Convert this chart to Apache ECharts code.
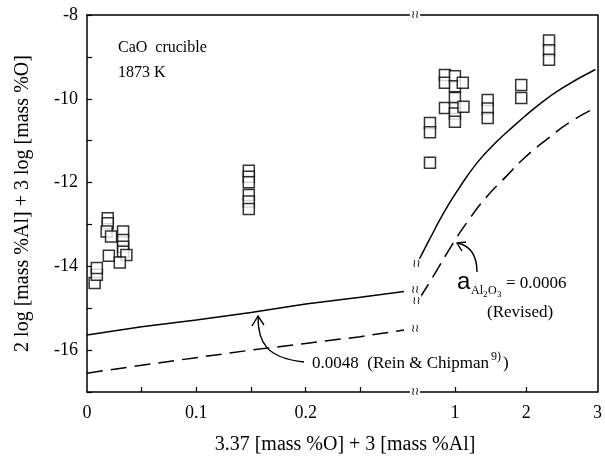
<!DOCTYPE html>
<html>
<head>
<meta charset="utf-8">
<script src="https://cdn.jsdelivr.net/npm/echarts@6/dist/echarts.min.js"></script>
<style>
  html, body { margin: 0; padding: 0; background: #fff; }
  #chart { width: 605px; height: 461px; }
</style>
</head>
<body>
<div id="chart"></div>
<script>
// x = 3.37 [mass %O] + 3 [mass %Al], y = 2 log [mass %Al] + 3 log [mass %O]
// left panel: linear 0 - 0.3, right panel (after the break): 0.44 - 3
var leftPoints = [
  [0.007, -14.40], [0.009, -14.20], [0.009, -14.04],
  [0.019, -12.85], [0.019, -12.97], [0.018, -13.17], [0.022, -13.29], [0.020, -13.75],
  [0.033, -13.17], [0.033, -13.37], [0.033, -13.53], [0.033, -13.65], [0.036, -13.73], [0.030, -13.91],
  [0.148, -11.72], [0.148, -11.86], [0.148, -11.99], [0.148, -12.30], [0.148, -12.45], [0.148, -12.63]
];
var rightPoints = [
  [0.65, -10.58], [0.65, -10.80], [0.65, -11.53],
  [0.86, -9.43], [0.86, -9.62], [0.86, -10.22],
  [1.00, -9.46], [1.00, -9.70], [1.00, -9.98], [1.00, -10.22], [1.00, -10.35], [1.00, -10.55],
  [1.11, -9.62], [1.12, -10.19],
  [1.46, -10.03], [1.46, -10.23], [1.46, -10.46],
  [1.93, -9.67], [1.93, -9.98],
  [2.32, -8.61], [2.32, -8.84], [2.32, -9.07]
];
// a(Al2O3) = 0.0048 (Rein & Chipman) -> dashed, 0.0006 (revised) -> solid
var solidLeft = [[0, -15.64], [0.05, -15.44], [0.1, -15.28], [0.15, -15.10], [0.2, -14.90], [0.25, -14.74], [0.29, -14.60]];
var dashedLeft = [[0, -16.55], [0.05, -16.36], [0.1, -16.18], [0.15, -16.00], [0.2, -15.84], [0.25, -15.68], [0.29, -15.52]];
var solidRight = [[0.48, -13.90], [0.64, -13.37], [0.84, -12.73], [1.04, -12.18], [1.31, -11.53], [1.57, -11.05], [1.84, -10.63], [2.17, -10.15], [2.51, -9.74], [2.97, -9.30]];
var dashedRight = [[0.51, -14.75], [0.71, -14.20], [0.93, -13.57], [1.17, -12.95], [1.44, -12.35], [1.71, -11.87], [1.97, -11.42], [2.31, -10.94], [2.64, -10.53], [2.97, -10.22]];

var leftTicks = [0.05, 0.1, 0.15, 0.2, 0.25];
var leftLabels = [0, 0.1, 0.2];
var rightTicks = [1, 2];
var rightLabels = [1, 2, 3];

var serif = 'Liberation Serif';
var chart = echarts.init(document.getElementById('chart'));

function xAxisBase(grid, min, max, ticks, labels) {
  return {
    type: 'value', gridIndex: grid, min: min, max: max, position: 'bottom',
    splitLine: { show: false },
    axisLine: { show: true, lineStyle: { color: '#000', width: 1.5 } },
    axisTick: { show: true, inside: true, length: 5, customValues: ticks, lineStyle: { color: '#000', width: 1.2 } },
    axisLabel: { show: true, customValues: labels, margin: 12, color: '#000', fontFamily: serif, fontSize: 18,
      formatter: function (v) { return String(v); } }
  };
}
function topAxis(grid, min, max) {
  return {
    type: 'value', gridIndex: grid, min: min, max: max, position: 'top',
    splitLine: { show: false }, axisTick: { show: false }, axisLabel: { show: false },
    axisLine: { show: true, lineStyle: { color: '#000', width: 1.5 } }
  };
}

var option = {
  animation: false,
  grid: [
    { left: 87, right: 190, top: 15, bottom: 69 },
    { left: 415, right: 1, top: 15, bottom: 69 }
  ],
  xAxis: [
    xAxisBase(0, 0, 0.3, leftTicks, leftLabels),
    xAxisBase(1, 0.44, 3, rightTicks, rightLabels),
    topAxis(0, 0, 0.3),
    topAxis(1, 0.44, 3)
  ],
  yAxis: [
    {
      type: 'value', gridIndex: 0, min: -17, max: -8, interval: 1,
      splitLine: { show: false },
      axisLine: { show: true, lineStyle: { color: '#000', width: 1.5 } },
      axisTick: { show: true, inside: true, length: 5, lineStyle: { color: '#000', width: 1.2 } },
      axisLabel: { margin: 9, color: '#000', fontFamily: serif, fontSize: 18,
        formatter: function (v) { return (v % 2 === 0 && v !== -17) ? String(v) : ''; } },
      name: '2 log [mass %Al] + 3 log [mass %O]', nameLocation: 'middle', nameGap: 54,
      nameTextStyle: { color: '#000', fontFamily: serif, fontSize: 20 }
    },
    {
      type: 'value', gridIndex: 1, min: -17, max: -8, position: 'right',
      splitLine: { show: false }, axisTick: { show: false }, axisLabel: { show: false },
      axisLine: { show: true, lineStyle: { color: '#000', width: 1.5 } }
    }
  ],
  series: [
    { type: 'line', xAxisIndex: 0, yAxisIndex: 0, data: solidLeft, symbol: 'none',
      lineStyle: { color: '#000', width: 1.5 } },
    { type: 'line', xAxisIndex: 0, yAxisIndex: 0, data: dashedLeft, symbol: 'none',
      lineStyle: { color: '#000', width: 1.5, type: [16, 8] } },
    { type: 'line', xAxisIndex: 1, yAxisIndex: 1, data: solidRight, symbol: 'none', smooth: true,
      lineStyle: { color: '#000', width: 1.5 } },
    { type: 'line', xAxisIndex: 1, yAxisIndex: 1, data: dashedRight, symbol: 'none', smooth: true,
      lineStyle: { color: '#000', width: 1.5, type: [16, 8] } },
    { type: 'scatter', xAxisIndex: 0, yAxisIndex: 0, data: leftPoints, symbol: 'rect', symbolSize: 11,
      itemStyle: { color: '#fff', borderColor: '#000', borderWidth: 1.5 } },
    { type: 'scatter', xAxisIndex: 1, yAxisIndex: 1, data: rightPoints, symbol: 'rect', symbolSize: 11,
      itemStyle: { color: '#fff', borderColor: '#000', borderWidth: 1.5 } }
  ]
};
chart.setOption(option);

// break marks on axes and line ends
function brk(p) {
  return {
    type: 'text', x: p[0], y: p[1], z: 100,
    style: { text: '≀≀', font: '11px "DejaVu Sans"', fill: '#000', align: 'center', verticalAlign: 'middle',
      backgroundColor: '#fff', padding: [0, 1] }
  };
}
var marks = [
  chart.convertToPixel({ gridIndex: 0 }, [0.3, -17]),
  chart.convertToPixel({ gridIndex: 0 }, [0.3, -8]),
  chart.convertToPixel({ gridIndex: 0 }, [0.3, -14.57]),
  chart.convertToPixel({ gridIndex: 0 }, [0.3, -15.49]),
  chart.convertToPixel({ gridIndex: 1 }, [0.46, -13.95]),
  chart.convertToPixel({ gridIndex: 1 }, [0.46, -14.82])
];

var graphics = marks.map(brk);
graphics.push(
  { type: 'text', x: 118, y: 48, style: { text: 'CaO  crucible', font: '16px "Liberation Serif"', fill: '#000', verticalAlign: 'middle' } },
  { type: 'text', x: 118, y: 73, style: { text: '1873 K', font: '16px "Liberation Serif"', fill: '#000', verticalAlign: 'middle' } },
  { type: 'text', x: 345, y: 445, style: { text: '3.37 [mass %O] + 3 [mass %Al]', font: '20px "Liberation Serif"', fill: '#000', align: 'center', verticalAlign: 'middle' } },
  // Rein & Chipman label + arrow
  { type: 'text', x: 312, y: 364, style: { text: '0.0048  (Rein & Chipman', font: '17px "Liberation Serif"', fill: '#000', verticalAlign: 'middle' } },
  { type: 'text', x: 491, y: 357, style: { text: '9)', font: '12px "Liberation Serif"', fill: '#000', verticalAlign: 'middle' } },
  { type: 'text', x: 503, y: 364, style: { text: ')', font: '17px "Liberation Serif"', fill: '#000', verticalAlign: 'middle' } },
  { type: 'bezierCurve', shape: { x1: 304, y1: 362, cpx1: 266, cpy1: 358, cpx2: 258, cpy2: 342, x2: 258, y2: 317 },
    style: { stroke: '#000', lineWidth: 1.4, fill: null } },
  { type: 'polyline', shape: { points: [[252, 326], [258, 316], [264, 325]] }, style: { stroke: '#000', lineWidth: 1.4, fill: null } },
  // revised label + arrow
  { type: 'text', x: 457, y: 282, style: { text: 'a', font: '24px "Liberation Sans"', fill: '#000', verticalAlign: 'middle' } },
  { type: 'text', x: 471, y: 291, style: { text: 'Al', font: '12px "Liberation Serif"', fill: '#000', verticalAlign: 'middle' } },
  { type: 'text', x: 483, y: 295, style: { text: '2', font: '9px "Liberation Serif"', fill: '#000', verticalAlign: 'middle' } },
  { type: 'text', x: 488, y: 291, style: { text: 'O', font: '12px "Liberation Serif"', fill: '#000', verticalAlign: 'middle' } },
  { type: 'text', x: 497, y: 295, style: { text: '3', font: '9px "Liberation Serif"', fill: '#000', verticalAlign: 'middle' } },
  { type: 'text', x: 506, y: 284, style: { text: '= 0.0006', font: '17px "Liberation Serif"', fill: '#000', verticalAlign: 'middle' } },
  { type: 'text', x: 487, y: 313, style: { text: '(Revised)', font: '17px "Liberation Serif"', fill: '#000', verticalAlign: 'middle' } },
  { type: 'bezierCurve', shape: { x1: 477, y1: 272, cpx1: 477, cpy1: 256, cpx2: 470, cpy2: 246, x2: 458, y2: 243 },
    style: { stroke: '#000', lineWidth: 1.4, fill: null } },
  { type: 'polyline', shape: { points: [[462, 251], [457, 243], [466, 242]] }, style: { stroke: '#000', lineWidth: 1.4, fill: null } }
);
chart.setOption({ graphic: graphics });
</script>
</body>
</html>
